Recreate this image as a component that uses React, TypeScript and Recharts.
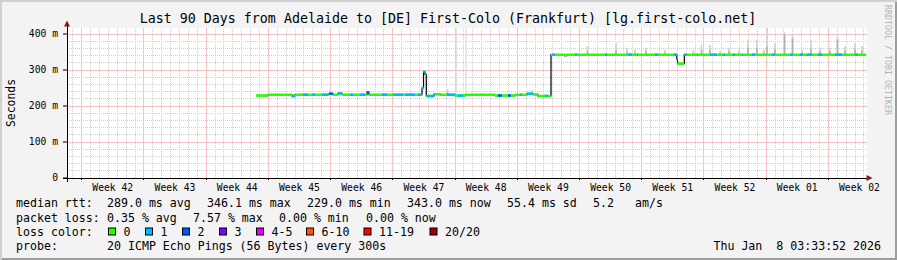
import {
	CartesianGrid,
	ComposedChart,
	Line,
	ReferenceDot,
	ReferenceLine,
	XAxis,
	YAxis,
} from "recharts";

const TITLE =
	"Last 90 Days from Adelaide to [DE] First-Colo (Frankfurt) [lg.first-colo.net]";

// median rtt as a step function (days since the left edge, ms); each value holds until the next day
const medianDays = [
	21.26, 22.61, 25.28, 25.65, 29.47, 29.92, 30.49, 30.94, 33.75, 33.97, 39.94,
	40.11, 40.28, 40.42, 41.3, 42.0, 43.65, 44.8, 48.15, 50.4, 51.75, 52.4, 52.98,
	54.45, 56.0, 56.2, 68.6, 68.68, 69.45, 89.9,
];
const medianMs = [
	229, 231.5, 228, 231.5, 234, 231.5, 235, 231.5, 238, 231.5, 250, 295, 288,
	228, 233, 231, 229, 231, 229, 231, 234, 232, 228, 342.5, 340, 342.5, 330, 318,
	342.5, 342.5,
];

// stretches where 1 of 20 pings was lost (light blue)
const lossOneRuns: [number, number][] = [
	[25.31, 25.65], [26.55, 27.11], [27.56, 27.9], [28.69, 29.36], [30.49, 30.94],
	[31.84, 32.17], [32.96, 33.52], [35.44, 36.0], [36.68, 37.8], [38.03, 39.15],
	[39.49, 40.42], [40.5, 41.4], [42.75, 43.65], [43.99, 44.55], [50.96, 51.19],
	[51.75, 52.42], [53.77, 54.11], [54.56, 54.9], [57.15, 57.37], [60.52, 60.75],
	[63.11, 63.56], [64.12, 64.23], [66.15, 66.49], [68.29, 68.74], [69.52, 69.75],
	[70.87, 70.99], [72.34, 73.12], [73.8, 74.02], [74.92, 75.15], [75.94, 76.05],
	[77.06, 77.4], [79.31, 79.65], [81.34, 81.67], [82.46, 82.8], [83.25, 83.81],
	[84.49, 84.94], [86.4, 87.19], [88.65, 88.99],
];
// stretches with 2 of 20 lost (blue)
const lossTwoRuns: [number, number][] = [
	[29.47, 29.92], [33.75, 33.97], [48.49, 48.94], [49.61, 49.95],
];

// smoke: spread of the single pings above the median
const smokeDays = [
	42.8, 52.31, 58.56, 61.76, 63.0, 63.9, 65.14, 67.28, 70.48, 71.38, 72.34,
	73.46, 74.47, 75.6, 76.61, 77.62, 78.41, 78.75, 79.65, 80.72, 81.62, 82.69,
	83.7, 84.71, 85.84, 86.68, 87.53, 88.65, 89.44,
];
const smokeTopMs = [
	248, 245, 366, 375, 362, 356, 362, 356, 356, 370, 370, 353, 362, 356, 384,
	384, 356, 416, 375, 405, 398, 356, 384, 362, 362, 393, 366, 375, 366,
];
const smokeCoreMs = [
	238, 238, 352, 355, 350, 348, 352, 348, 348, 356, 356, 347, 352, 348, 362,
	360, 348, 365, 358, 398, 388, 348, 360, 352, 352, 385, 354, 358, 354,
];
// two single slow pings in week 45 that run off the top
const faintSmokeDays = [43.82, 44.89];
const faintSmokeTopMs = [416, 416];

const weekLabels = [
	"Week 42", "Week 43", "Week 44", "Week 45", "Week 46", "Week 47", "Week 48",
	"Week 49", "Week 50", "Week 51", "Week 52", "Week 01", "Week 02",
];
const firstWeekStart = 1.65; // monday 00:00 of week 42, in days
const yTicks = [0, 100, 200, 300, 400];

const rttStats = ["289.0 ms avg", "346.1 ms max", "229.0 ms min", "343.0 ms now", "55.4 ms sd", "5.2", "am/s"];
const lossStats = ["0.35 % avg", "7.57 % max", "0.00 % min", "0.00 % now"];
const lossLabels = ["0", "1", "2", "3", "4-5", "6-10", "11-19", "20/20"];
const lossColors = ["#26ff00", "#00b8ff", "#0059ff", "#7e00ff", "#dd00ff", "#ff5500", "#ff0000", "#a10000"];
const probeText = "20 ICMP Echo Pings (56 Bytes) every 300s";
const stampText = "Thu Jan  8 03:33:52 2026";

const MONO = "'DejaVu Sans Mono', monospace";
const Y_MAX = 416.7;

function medianAt(day: number) {
	let v = medianMs[0];
	for (let i = 0; i < medianDays.length; i++) {
		if (medianDays[i] <= day) v = medianMs[i];
	}
	return v;
}

// cut runs into flat pieces that follow the median steps
function runsToSegments(runs: [number, number][]) {
	const out: { day: number; ms: number | null }[] = [];
	for (const [a, b] of runs) {
		for (let i = 0; i < medianDays.length - 1; i++) {
			const s = Math.max(a, medianDays[i]);
			const e = Math.min(b, medianDays[i + 1]);
			if (e > s) {
				out.push({ day: s, ms: medianMs[i] }, { day: e, ms: medianMs[i] }, { day: e, ms: null });
			}
		}
	}
	return out;
}

function smokeSegments(days: number[], tops: number[]) {
	const out: { day: number; ms: number | null }[] = [];
	days.forEach((d, i) => {
		out.push({ day: d, ms: medianAt(d) }, { day: d, ms: tops[i] }, { day: d, ms: null });
	});
	return out;
}

const medianLine = medianDays.map((d, i) => ({ day: d, ms: medianMs[i] }));
const greenSegs = runsToSegments([[medianDays[0], medianDays[medianDays.length - 1]]]);
const lossOneSegs = runsToSegments(lossOneRuns);
const lossTwoSegs = runsToSegments(lossTwoRuns);
const smokeLight = smokeSegments(smokeDays, smokeTopMs);
const smokeCore = smokeSegments(smokeDays, smokeCoreMs);
const smokeFaint = smokeSegments(faintSmokeDays, faintSmokeTopMs);

// daily grid, week boundaries get the red one instead
const dayLines: number[] = [];
for (let k = 0; k < 90; k++) {
	if ((k - 1) % 7 !== 0) dayLines.push(firstWeekStart - 1 + k);
}
const weekLines = weekLabels.map((_, i) => firstWeekStart + i * 7);
const weekTicks = weekLabels.map((_, i) => firstWeekStart + 3.5 + i * 7);
const minorMs: number[] = [];
for (let v = 20; v <= 400; v += 20) if (v % 100 !== 0) minorMs.push(v);

const upArrow = (p: { cx?: number; cy?: number }) => (
	<path d={`M${(p.cx ?? 0) - 3},${(p.cy ?? 0) + 4} L${p.cx},${(p.cy ?? 0) - 2} L${(p.cx ?? 0) + 3},${(p.cy ?? 0) + 4} Z`} fill="#8b1a1a" />
);
const rightArrow = (p: { cx?: number; cy?: number }) => (
	<path d={`M${(p.cx ?? 0) - 4},${(p.cy ?? 0) - 3} L${(p.cx ?? 0) + 2},${p.cy} L${(p.cx ?? 0) - 4},${(p.cy ?? 0) + 3} Z`} fill="#8b1a1a" />
);

export default function App() {
	const rttX = [107, 207, 307, 407, 507, 593, 635];
	const lossX = [107, 193, 279, 366];
	const boxX = [108.5, 145.5, 182.5, 219.5, 256.5, 306.5, 364, 430];
	const textStyle = { fontFamily: MONO, whiteSpace: "pre" as const };

	return (
		<div
			style={{
				position: "relative",
				width: 897,
				height: 260,
				background: "#f3f3f3",
				boxShadow: "inset 2px 2px 0 #d0d0d0, inset -2px -2px 0 #9d9d9d",
			}}
		>
			<style>{"body{margin:0}"}</style>
			<div style={{ position: "absolute", left: 0, top: 0 }}>
				<ComposedChart width={897} height={260} margin={{ top: 28, right: 30, bottom: 62, left: 8 }}>
					<CartesianGrid horizontal={false} vertical={false} fill="#ffffff" fillOpacity={1} />
					<XAxis
						type="number"
						dataKey="day"
						domain={[0, 90]}
						ticks={weekTicks}
						interval={0}
						tickFormatter={(_v, i) => weekLabels[i]}
						tickLine={false}
						axisLine={false}
						tickSize={4}
						tickMargin={2}
						height={20}
						tick={{ fill: "#000", fontSize: 9.7, fontFamily: MONO }}
						allowDataOverflow
					/>
					<YAxis
						type="number"
						domain={[0, Y_MAX]}
						ticks={yTicks}
						interval={0}
						tickFormatter={(v) => (v === 0 ? "0" : `${v} m`)}
						width={59}
						tickSize={4}
						tickMargin={5}
						axisLine={false}
						tickLine={{ stroke: "#000" }}
						tick={{ fill: "#000", fontSize: 9.7, fontFamily: MONO }}
						allowDataOverflow
					/>
					{dayLines.map((d) => (
						<ReferenceLine key={`d${d}`} x={d} stroke="#cfcfcf" strokeDasharray="1 1" shapeRendering="crispEdges" />
					))}
					{minorMs.map((v) => (
						<ReferenceLine key={`m${v}`} y={v} stroke="#cfcfcf" strokeDasharray="1 1" shapeRendering="crispEdges" />
					))}
					{weekLines.map((d) => (
						<ReferenceLine key={`w${d}`} x={d} stroke="#f8c2c2" shapeRendering="crispEdges" />
					))}
					{yTicks.slice(1).map((v) => (
						<ReferenceLine key={`y${v}`} y={v} stroke="#f8c2c2" shapeRendering="crispEdges" />
					))}
					{weekLines.map((d) => (
						<ReferenceLine
							key={`t${d}`}
							segment={[{ x: d, y: 0 }, { x: d, y: -6 }]}
							stroke="#000"
							shapeRendering="crispEdges"
							ifOverflow="visible"
						/>
					))}

					<Line data={smokeFaint} dataKey="ms" stroke="#e2e2e2" strokeWidth={1.5} dot={false} activeDot={false} isAnimationActive={false} type="linear" />
					<Line data={smokeLight} dataKey="ms" stroke="#d6d6d6" strokeWidth={2} dot={false} activeDot={false} isAnimationActive={false} type="linear" />
					<Line data={smokeCore} dataKey="ms" stroke="#b0b0b0" strokeWidth={1.5} dot={false} activeDot={false} isAnimationActive={false} type="linear" />
					<Line data={medianLine} dataKey="ms" stroke="#000" strokeWidth={1.2} dot={false} activeDot={false} isAnimationActive={false} type="stepAfter" />
					<Line data={greenSegs} dataKey="ms" stroke={lossColors[0]} strokeWidth={2.5} dot={false} activeDot={false} isAnimationActive={false} type="linear" />
					<Line data={lossOneSegs} dataKey="ms" stroke={lossColors[1]} strokeWidth={2.5} dot={false} activeDot={false} isAnimationActive={false} type="linear" />
					<Line data={lossTwoSegs} dataKey="ms" stroke={lossColors[2]} strokeWidth={2.5} dot={false} activeDot={false} isAnimationActive={false} type="linear" />

					<ReferenceLine segment={[{ x: 0, y: -10 }, { x: 0, y: 430 }]} stroke="#000" shapeRendering="crispEdges" ifOverflow="visible" />
					<ReferenceLine segment={[{ x: -0.5, y: 0 }, { x: 90.2, y: 0 }]} stroke="#000" shapeRendering="crispEdges" ifOverflow="visible" />
					<ReferenceDot x={0} y={432} ifOverflow="visible" shape={upArrow} />
					<ReferenceDot x={90.4} y={0} ifOverflow="visible" shape={rightArrow} />
				</ComposedChart>
			</div>

			<svg width={897} height={260} style={{ position: "absolute", left: 0, top: 0, pointerEvents: "none" }}>
				<text x={448} y={23} textAnchor="middle" fontSize={13.3} fill="#000" style={textStyle}>
					{TITLE}
				</text>
				<text transform="translate(15,103) rotate(-90)" textAnchor="middle" fontSize={11.4} fill="#000" style={textStyle}>
					Seconds
				</text>
				<text transform="translate(885,5) rotate(90)" fontSize={8.3} fill="#b4b4b4" style={textStyle}>
					RRDTOOL / TOBI OETIKER
				</text>

				<g fontSize={11.6} fill="#000">
					<text x={16} y={207.3} style={textStyle}>median rtt:</text>
					{rttStats.map((s, i) => (
						<text key={s} x={rttX[i]} y={207.3} style={textStyle}>{s}</text>
					))}
					<text x={16} y={221.6} style={textStyle}>packet loss:</text>
					{lossStats.map((s, i) => (
						<text key={s + i} x={lossX[i]} y={221.6} style={textStyle}>{s}</text>
					))}
					<text x={16} y={235.9} style={textStyle}>loss color:</text>
					{lossLabels.map((s, i) => (
						<g key={s}>
							<rect x={boxX[i]} y={228} width={7} height={7} fill={lossColors[i]} stroke="#000" strokeWidth={1} />
							<text x={boxX[i] + 15} y={235.9} style={textStyle}>{s}</text>
						</g>
					))}
					<text x={16} y={250.2} style={textStyle}>probe:</text>
					<text x={107} y={250.2} style={textStyle}>{probeText}</text>
					<text x={881} y={250.2} textAnchor="end" style={textStyle}>{stampText}</text>
				</g>
			</svg>
		</div>
	);
}
